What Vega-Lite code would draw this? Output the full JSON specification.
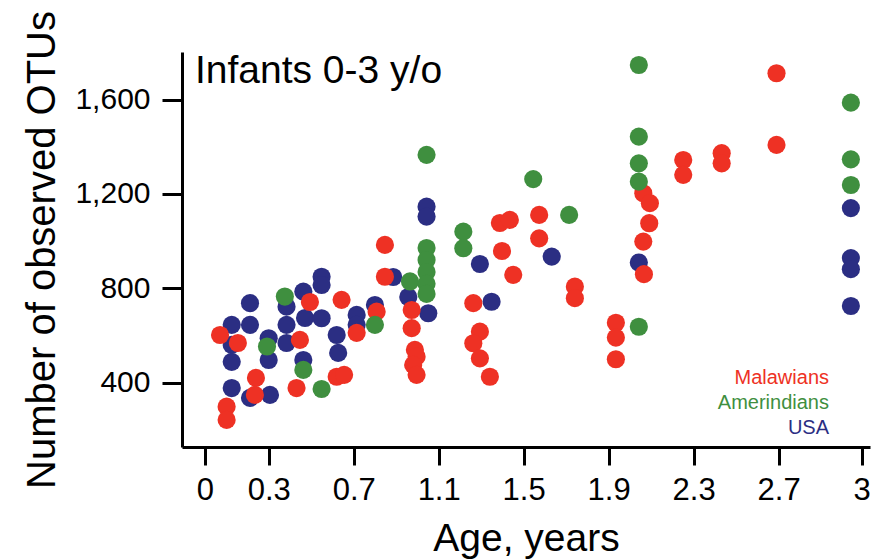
{
  "$schema": "https://vega.github.io/schema/vega-lite/v6.json",
  "width": 688,
  "height": 395,
  "autosize": {"type": "none"},
  "padding": {"left": 182, "top": 52, "right": 3, "bottom": 113},
  "background": "white",
  "config": {
    "view": {"stroke": null},
    "font": "Liberation Sans"
  },
  "layer": [
    {
      "data": {
        "values": [
          {"group": "USA", "age": 0.126, "otus": 645},
          {"group": "USA", "age": 0.212, "otus": 737},
          {"group": "USA", "age": 0.212, "otus": 645},
          {"group": "USA", "age": 0.126, "otus": 560},
          {"group": "USA", "age": 0.126, "otus": 488},
          {"group": "USA", "age": 0.126, "otus": 377},
          {"group": "USA", "age": 0.300, "otus": 588},
          {"group": "USA", "age": 0.300, "otus": 496},
          {"group": "USA", "age": 0.212, "otus": 335},
          {"group": "USA", "age": 0.306, "otus": 348},
          {"group": "USA", "age": 0.384, "otus": 722},
          {"group": "USA", "age": 0.384, "otus": 645},
          {"group": "USA", "age": 0.384, "otus": 568},
          {"group": "USA", "age": 0.463, "otus": 786},
          {"group": "USA", "age": 0.471, "otus": 674},
          {"group": "USA", "age": 0.463, "otus": 496},
          {"group": "USA", "age": 0.549, "otus": 849},
          {"group": "USA", "age": 0.549, "otus": 814},
          {"group": "USA", "age": 0.549, "otus": 673},
          {"group": "USA", "age": 0.620, "otus": 602},
          {"group": "USA", "age": 0.627, "otus": 526},
          {"group": "USA", "age": 0.714, "otus": 687},
          {"group": "USA", "age": 0.714, "otus": 645},
          {"group": "USA", "age": 0.800, "otus": 729},
          {"group": "USA", "age": 0.886, "otus": 848},
          {"group": "USA", "age": 0.957, "otus": 763},
          {"group": "USA", "age": 1.043, "otus": 1146},
          {"group": "USA", "age": 1.043, "otus": 1104},
          {"group": "USA", "age": 1.051, "otus": 694},
          {"group": "USA", "age": 1.294, "otus": 903},
          {"group": "USA", "age": 1.349, "otus": 743},
          {"group": "USA", "age": 1.632, "otus": 934},
          {"group": "USA", "age": 2.042, "otus": 909},
          {"group": "USA", "age": 3.04, "otus": 1140},
          {"group": "USA", "age": 3.04, "otus": 928},
          {"group": "USA", "age": 3.04, "otus": 881},
          {"group": "USA", "age": 3.04, "otus": 725},
          {"group": "Malawians", "age": 0.071, "otus": 602},
          {"group": "Malawians", "age": 0.102, "otus": 298},
          {"group": "Malawians", "age": 0.102, "otus": 242},
          {"group": "Malawians", "age": 0.155, "otus": 568},
          {"group": "Malawians", "age": 0.240, "otus": 420},
          {"group": "Malawians", "age": 0.235, "otus": 348},
          {"group": "Malawians", "age": 0.447, "otus": 581},
          {"group": "Malawians", "age": 0.494, "otus": 742},
          {"group": "Malawians", "age": 0.431, "otus": 377},
          {"group": "Malawians", "age": 0.643, "otus": 751},
          {"group": "Malawians", "age": 0.620, "otus": 425},
          {"group": "Malawians", "age": 0.655, "otus": 433},
          {"group": "Malawians", "age": 0.714, "otus": 611},
          {"group": "Malawians", "age": 0.808, "otus": 701},
          {"group": "Malawians", "age": 0.847, "otus": 984},
          {"group": "Malawians", "age": 0.847, "otus": 849},
          {"group": "Malawians", "age": 0.973, "otus": 708},
          {"group": "Malawians", "age": 0.973, "otus": 631},
          {"group": "Malawians", "age": 0.988, "otus": 539},
          {"group": "Malawians", "age": 0.996, "otus": 510},
          {"group": "Malawians", "age": 0.980, "otus": 475},
          {"group": "Malawians", "age": 0.996, "otus": 433},
          {"group": "Malawians", "age": 1.263, "otus": 737},
          {"group": "Malawians", "age": 1.294, "otus": 616},
          {"group": "Malawians", "age": 1.263, "otus": 567},
          {"group": "Malawians", "age": 1.294, "otus": 503},
          {"group": "Malawians", "age": 1.341, "otus": 425},
          {"group": "Malawians", "age": 1.388, "otus": 1077},
          {"group": "Malawians", "age": 1.435, "otus": 1090},
          {"group": "Malawians", "age": 1.398, "otus": 958},
          {"group": "Malawians", "age": 1.451, "otus": 857},
          {"group": "Malawians", "age": 1.573, "otus": 1111},
          {"group": "Malawians", "age": 1.573, "otus": 1012},
          {"group": "Malawians", "age": 1.741, "otus": 807},
          {"group": "Malawians", "age": 1.741, "otus": 758},
          {"group": "Malawians", "age": 1.934, "otus": 654},
          {"group": "Malawians", "age": 1.934, "otus": 591},
          {"group": "Malawians", "age": 1.934, "otus": 499},
          {"group": "Malawians", "age": 2.063, "otus": 1203},
          {"group": "Malawians", "age": 2.094, "otus": 1161},
          {"group": "Malawians", "age": 2.091, "otus": 1076},
          {"group": "Malawians", "age": 2.063, "otus": 998},
          {"group": "Malawians", "age": 2.066, "otus": 860},
          {"group": "Malawians", "age": 2.251, "otus": 1344},
          {"group": "Malawians", "age": 2.251, "otus": 1281},
          {"group": "Malawians", "age": 2.432, "otus": 1373},
          {"group": "Malawians", "age": 2.432, "otus": 1330},
          {"group": "Malawians", "age": 2.690, "otus": 1712},
          {"group": "Malawians", "age": 2.690, "otus": 1408},
          {"group": "Amerindians", "age": 0.376, "otus": 765},
          {"group": "Amerindians", "age": 0.292, "otus": 553},
          {"group": "Amerindians", "age": 0.463, "otus": 454},
          {"group": "Amerindians", "age": 0.549, "otus": 373},
          {"group": "Amerindians", "age": 0.800, "otus": 645},
          {"group": "Amerindians", "age": 0.965, "otus": 829},
          {"group": "Amerindians", "age": 1.043, "otus": 1366},
          {"group": "Amerindians", "age": 1.043, "otus": 971},
          {"group": "Amerindians", "age": 1.043, "otus": 920},
          {"group": "Amerindians", "age": 1.043, "otus": 869},
          {"group": "Amerindians", "age": 1.043, "otus": 819},
          {"group": "Amerindians", "age": 1.043, "otus": 776},
          {"group": "Amerindians", "age": 1.216, "otus": 1040},
          {"group": "Amerindians", "age": 1.216, "otus": 970},
          {"group": "Amerindians", "age": 1.545, "otus": 1263},
          {"group": "Amerindians", "age": 1.714, "otus": 1111},
          {"group": "Amerindians", "age": 2.042, "otus": 1747},
          {"group": "Amerindians", "age": 2.042, "otus": 1443},
          {"group": "Amerindians", "age": 2.042, "otus": 1330},
          {"group": "Amerindians", "age": 2.042, "otus": 1252},
          {"group": "Amerindians", "age": 2.042, "otus": 637},
          {"group": "Amerindians", "age": 3.04, "otus": 1587},
          {"group": "Amerindians", "age": 3.04, "otus": 1347},
          {"group": "Amerindians", "age": 3.04, "otus": 1238}
        ]
      },
      "mark": {"type": "circle", "size": 330, "opacity": 1},
      "encoding": {
        "x": {
          "field": "age",
          "type": "quantitative",
          "scale": {"domain": [-0.108, 3.13], "zero": false, "nice": false},
          "axis": {
            "title": "Age, years",
            "values": [0, 0.3, 0.7, 1.1, 1.5, 1.9, 2.3, 2.7, 3.09],
            "format": ".1~f",
            "labelExpr": "datum.value > 3 ? '3' : datum.label",
            "grid": false,
            "domainColor": "black",
            "domainWidth": 3,
            "tickColor": "black",
            "tickWidth": 3,
            "tickSize": 18,
            "labelFont": "Liberation Sans Narrow, Liberation Sans",
            "labelFontSize": 31,
            "labelColor": "black",
            "labelPadding": 10,
            "titleFont": "Liberation Sans",
            "titleFontSize": 39,
            "titleFontWeight": "normal",
            "titleColor": "black",
            "titlePadding": 14
          }
        },
        "y": {
          "field": "otus",
          "type": "quantitative",
          "scale": {"domain": [127, 1802], "zero": false, "nice": false},
          "axis": {
            "title": "Number of observed OTUs",
            "values": [400, 800, 1200, 1600],
            "format": ",d",
            "grid": false,
            "domainColor": "black",
            "domainWidth": 3,
            "tickColor": "black",
            "tickWidth": 3,
            "tickSize": 20,
            "labelFont": "Liberation Sans",
            "labelFontSize": 30,
            "labelColor": "black",
            "labelPadding": 12,
            "titleFont": "Liberation Sans",
            "titleFontSize": 40,
            "titleFontWeight": "normal",
            "titleColor": "black",
            "titlePadding": 12
          }
        },
        "color": {
          "field": "group",
          "type": "nominal",
          "scale": {
            "domain": ["Malawians", "Amerindians", "USA"],
            "range": ["#ee3124", "#3f8f3f", "#2b2e83"]
          },
          "legend": {
            "title": null,
            "orient": "none",
            "legendX": 627,
            "legendY": 316,
            "padding": 0,
            "symbolSize": 1,
            "symbolOpacity": 0,
            "symbolStrokeWidth": 0,
            "labelAlign": "right",
            "labelOffset": 0,
            "labelFont": "Liberation Sans",
            "labelFontSize": 20,
            "rowPadding": 5,
            "encode": {
              "labels": {"update": {"fill": {"scale": "color", "field": "value"}}}
            }
          }
        }
      }
    },
    {
      "data": {"values": [{"note": "Infants 0-3 y/o", "age": -0.047, "otus": 1671}]},
      "mark": {"type": "text", "align": "left", "baseline": "alphabetic", "fontSize": 39, "font": "Liberation Sans", "fontWeight": "normal", "fill": "black"},
      "encoding": {
        "x": {"field": "age", "type": "quantitative"},
        "y": {"field": "otus", "type": "quantitative"},
        "text": {"field": "note"}
      }
    }
  ]
}
